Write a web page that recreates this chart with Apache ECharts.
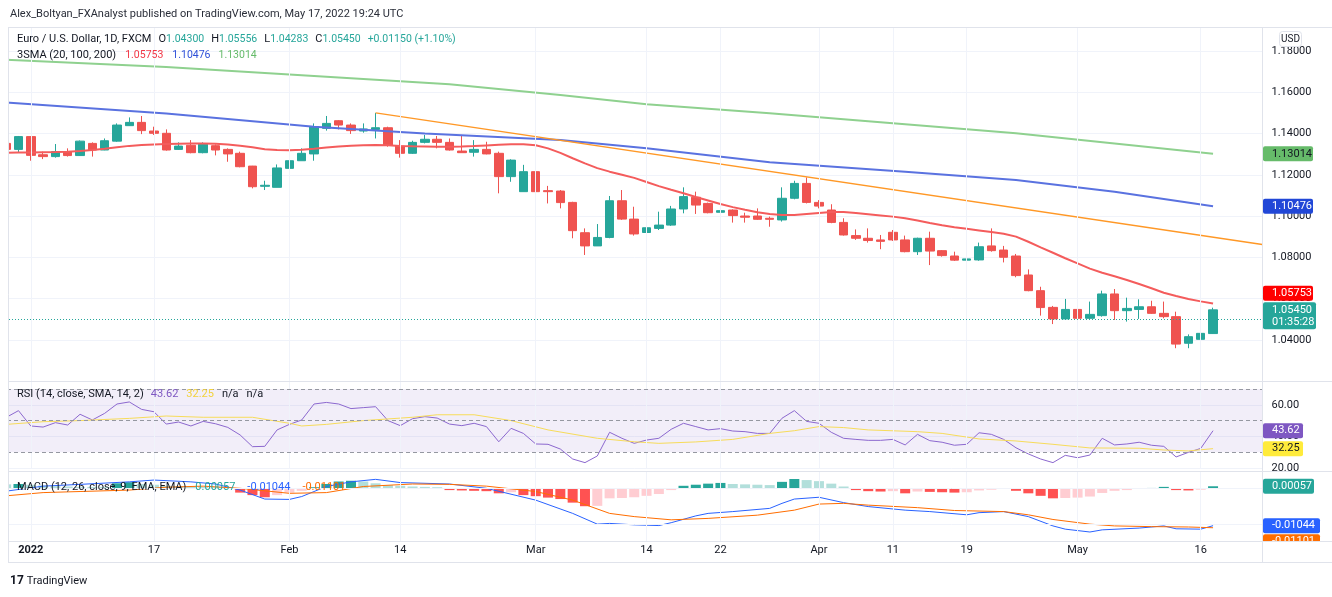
<!DOCTYPE html>
<html>
<head>
<meta charset="utf-8">
<title>EURUSD 1D</title>
<script src="https://cdn.jsdelivr.net/npm/echarts@6/dist/echarts.min.js"></script>
<style>
  html, body { margin: 0; padding: 0; background: #fff; }
  #chart { width: 1332px; height: 597px; }
</style>
</head>
<body>
<div id="chart"></div>
<script>
// trading days on the chart (Dec 30 2021 .. May 17 2022) + empty days to the right edge
const days = {
  '2021-12': [30, 31],
  '2022-01': [3, 4, 5, 6, 7, 10, 11, 12, 13, 14, 17, 18, 19, 20, 21, 24, 25, 26, 27, 28, 31],
  '2022-02': [1, 2, 3, 4, 7, 8, 9, 10, 11, 14, 15, 16, 17, 18, 21, 22, 23, 24, 25, 28],
  '2022-03': [1, 2, 3, 4, 7, 8, 9, 10, 11, 14, 15, 16, 17, 18, 21, 22, 23, 24, 25, 28, 29, 30, 31],
  '2022-04': [1, 4, 5, 6, 7, 8, 11, 12, 13, 14, 15, 18, 19, 20, 21, 22, 25, 26, 27, 28, 29],
  '2022-05': [2, 3, 4, 5, 6, 9, 10, 11, 12, 13, 16, 17, 18, 19, 20, 23]
};
const dates = Object.entries(days).flatMap(([m, ds]) => ds.map(d => m + '-' + String(d).padStart(2, '0')));

// time axis labels
const tickDates = ['2022-01-03', '2022-01-17', '2022-02-01', '2022-02-14', '2022-03-01', '2022-03-14',
  '2022-03-22', '2022-04-01', '2022-04-11', '2022-04-19', '2022-05-02', '2022-05-16'];
const tickLabels = ['2022', '17', 'Feb', '14', 'Mar', '14', '22', 'Apr', '11', '19', 'May', '16'];

// [open, close, low, high] from Dec 30
const candles = [
  [1.1352, 1.1323, 1.1318, 1.1362], [1.1323, 1.1385, 1.1307, 1.1388],
  [1.1385, 1.1294, 1.1268, 1.1386], [1.1297, 1.1288, 1.1276, 1.1312], [1.1288, 1.1312, 1.1283, 1.1349],
  [1.1312, 1.1293, 1.1288, 1.1328], [1.1293, 1.1363, 1.1292, 1.1366], [1.1352, 1.1320, 1.1288, 1.1357],
  [1.1320, 1.1365, 1.1319, 1.1376], [1.1363, 1.1441, 1.1360, 1.1449], [1.1438, 1.1454, 1.1437, 1.1478],
  [1.1454, 1.1414, 1.1397, 1.1485], [1.1412, 1.1401, 1.1393, 1.1433], [1.1401, 1.1320, 1.1317, 1.1420],
  [1.1323, 1.1339, 1.1320, 1.1357], [1.1343, 1.1307, 1.1304, 1.1368], [1.1307, 1.1348, 1.1304, 1.1357],
  [1.1341, 1.1320, 1.1294, 1.1347], [1.1323, 1.1301, 1.1263, 1.1328], [1.1304, 1.1239, 1.1236, 1.1312],
  [1.1242, 1.1142, 1.1134, 1.1243], [1.1144, 1.1149, 1.1126, 1.1171], [1.1139, 1.1233, 1.1139, 1.1250],
  [1.1231, 1.1268, 1.1223, 1.1280], [1.1268, 1.1304, 1.1268, 1.1328], [1.1301, 1.1433, 1.1268, 1.1449],
  [1.1425, 1.1449, 1.1414, 1.1485], [1.1462, 1.1441, 1.1420, 1.1465], [1.1441, 1.1414, 1.1398, 1.1449],
  [1.1412, 1.1422, 1.1404, 1.1449], [1.1420, 1.1428, 1.1376, 1.1500], [1.1428, 1.1344, 1.1336, 1.1433],
  [1.1339, 1.1304, 1.1283, 1.1368], [1.1304, 1.1357, 1.1301, 1.1365], [1.1357, 1.1372, 1.1352, 1.1393],
  [1.1372, 1.1357, 1.1328, 1.1388], [1.1357, 1.1320, 1.1317, 1.1376], [1.1315, 1.1307, 1.1307, 1.1393],
  [1.1309, 1.1323, 1.1288, 1.1368], [1.1323, 1.1301, 1.1299, 1.1360], [1.1304, 1.1191, 1.1110, 1.1312],
  [1.1191, 1.1271, 1.1166, 1.1275], [1.1118, 1.1215, 1.1118, 1.1248], [1.1215, 1.1118, 1.1094, 1.1236],
  [1.1123, 1.1118, 1.1061, 1.1146], [1.1121, 1.1065, 1.1037, 1.1126], [1.1066, 1.0929, 1.0892, 1.1069],
  [1.0919, 1.0855, 1.0811, 1.0940], [1.0855, 1.0896, 1.0855, 1.0961], [1.0896, 1.1074, 1.0892, 1.1097],
  [1.1074, 1.0985, 1.0981, 1.1126], [1.0985, 1.0913, 1.0905, 1.1045], [1.0920, 1.0943, 1.0908, 1.0999],
  [1.0940, 1.0956, 1.0932, 1.1021], [1.0956, 1.1034, 1.0952, 1.1049], [1.1034, 1.1094, 1.1013, 1.1139],
  [1.1091, 1.1053, 1.1010, 1.1118], [1.1061, 1.1016, 1.1013, 1.1065], [1.1018, 1.1026, 1.0965, 1.1042],
  [1.1029, 1.1002, 1.0968, 1.1032], [1.1000, 1.0994, 1.0968, 1.1016], [1.1000, 1.0984, 1.0981, 1.1037],
  [1.0989, 1.0984, 1.0948, 1.0997], [1.0981, 1.1086, 1.0973, 1.1139], [1.1086, 1.1158, 1.1081, 1.1171],
  [1.1158, 1.1066, 1.1061, 1.1187], [1.1066, 1.1048, 1.1037, 1.1077], [1.1029, 1.0969, 1.0965, 1.1057],
  [1.0969, 1.0908, 1.0905, 1.0989], [1.0905, 1.0892, 1.0884, 1.0935], [1.0892, 1.0881, 1.0871, 1.0940],
  [1.0884, 1.0877, 1.0839, 1.0908], [1.0921, 1.0884, 1.0879, 1.0932], [1.0884, 1.0827, 1.0824, 1.0905],
  [1.0827, 1.0892, 1.0811, 1.0895], [1.0892, 1.0830, 1.0762, 1.0924], [1.0832, 1.0808, 1.0803, 1.0835],
  [1.0806, 1.0786, 1.0782, 1.0827], [1.0786, 1.0792, 1.0770, 1.0818], [1.0787, 1.0851, 1.0783, 1.0871],
  [1.0855, 1.0832, 1.0827, 1.0940], [1.0835, 1.0800, 1.0775, 1.0855], [1.0806, 1.0711, 1.0703, 1.0816],
  [1.0714, 1.0638, 1.0635, 1.0741], [1.0638, 1.0556, 1.0517, 1.0657], [1.0557, 1.0501, 1.0476, 1.0564],
  [1.0501, 1.0547, 1.0496, 1.0598], [1.0547, 1.0504, 1.0491, 1.0557], [1.0504, 1.0523, 1.0499, 1.0585],
  [1.0517, 1.0622, 1.0512, 1.0638], [1.0622, 1.0541, 1.0496, 1.0646], [1.0541, 1.0552, 1.0488, 1.0604],
  [1.0547, 1.0560, 1.0501, 1.0596], [1.0560, 1.0528, 1.0525, 1.0589], [1.0528, 1.0512, 1.0504, 1.0585],
  [1.0512, 1.0379, 1.0359, 1.0536], [1.0383, 1.0415, 1.0359, 1.0426], [1.0402, 1.0431, 1.0402, 1.0451],
  [1.0430, 1.0545, 1.04283, 1.05556]
];

// SMA 20, one value per bar from Dec 30
const sma20 = [
  1.1307, 1.1308, 1.1308, 1.1309, 1.1310, 1.1312, 1.1315, 1.1320, 1.1326, 1.1333, 1.1340,
  1.1344, 1.1347, 1.1349, 1.1350, 1.1351, 1.1351, 1.1350, 1.1347, 1.1341, 1.1333, 1.1324,
  1.1320, 1.1319, 1.1321, 1.1326, 1.1332, 1.1337, 1.1341, 1.1343, 1.1344, 1.1343, 1.1340,
  1.1338, 1.1337, 1.1336, 1.1336, 1.1337, 1.1339, 1.1342, 1.1345, 1.1348, 1.1348, 1.1343,
  1.1328, 1.1306, 1.1280, 1.1255, 1.1232, 1.1215, 1.1200, 1.1185, 1.1165, 1.1145, 1.1127,
  1.1110, 1.1092, 1.1075, 1.1058, 1.1043, 1.1030, 1.1018, 1.1010, 1.1005, 1.1005, 1.1010,
  1.1015, 1.1020, 1.1019, 1.1015, 1.1009, 1.1003, 1.0997, 1.0989, 1.0978, 1.0966, 1.0955,
  1.0946, 1.0938, 1.0930, 1.0922, 1.0914, 1.0900, 1.0875, 1.0848, 1.0822, 1.0795, 1.0770,
  1.0745, 1.0725, 1.0708, 1.0690, 1.0670, 1.0650, 1.0628, 1.0612, 1.0598, 1.0586, 1.05753
];
// SMA 100 / 200, read at a number of days
const sma100 = [
  ['2021-12-30', 1.1550], ['2022-01-18', 1.1497], ['2022-02-03', 1.1433], ['2022-02-16', 1.1400],
  ['2022-03-03', 1.1368], ['2022-03-14', 1.1328], ['2022-03-28', 1.1261], ['2022-04-12', 1.1215],
  ['2022-04-25', 1.1175], ['2022-05-05', 1.1118], ['2022-05-17', 1.10476]
];
const sma200 = [
  ['2021-12-30', 1.1758], ['2022-01-18', 1.1722], ['2022-02-02', 1.1682], ['2022-02-18', 1.1639],
  ['2022-03-03', 1.1587], ['2022-03-14', 1.1542], ['2022-03-28', 1.1498], ['2022-04-08', 1.1454],
  ['2022-04-25', 1.1401], ['2022-05-05', 1.1352], ['2022-05-17', 1.13014]
];
const trendLine = [['2022-02-10', 1.1500], ['2022-05-23', 1.0862]];

// RSI 14, one value per bar from Dec 30
const rsi = [
  52.0, 56.3, 46.6, 45.9, 48.7, 47.2, 54.0, 50.4, 54.6, 60.5, 61.8, 57.1, 55.6, 47.8, 49.1,
  46.6, 49.5, 48.0, 45.7, 40.9, 33.5, 33.7, 44.1, 47.6, 50.4, 60.5, 61.5, 60.5, 57.6, 58.2,
  58.8, 50.0, 46.8, 51.2, 52.5, 51.6, 47.8, 46.8, 48.3, 46.2, 36.6, 45.1, 41.9, 35.2, 35.0,
  32.0, 25.7, 23.4, 27.6, 42.6, 38.8, 35.6, 37.7, 38.8, 44.5, 48.3, 46.2, 44.1, 44.9, 43.4,
  43.0, 41.9, 41.9, 51.5, 56.3, 49.5, 48.3, 42.6, 38.8, 38.1, 37.5, 37.5, 38.1, 34.6, 41.3,
  37.3, 36.3, 34.4, 35.0, 42.3, 41.3, 38.1, 32.8, 28.9, 25.7, 23.4, 28.0, 26.5, 28.2, 38.8,
  34.6, 35.2, 36.3, 34.4, 33.7, 27.0, 29.9, 32.4, 43.62
];
const rsiMa = [
  ['2021-12-30', 47.6], ['2022-01-04', 49.3], ['2022-01-07', 50.0], ['2022-01-13', 51.4],
  ['2022-01-18', 52.9], ['2022-01-21', 52.1], ['2022-01-27', 52.1], ['2022-02-01', 48.3],
  ['2022-02-02', 46.6], ['2022-02-04', 47.6], ['2022-02-09', 50.0], ['2022-02-15', 52.1],
  ['2022-02-17', 53.7], ['2022-02-22', 53.7], ['2022-02-25', 50.0], ['2022-03-02', 44.1],
  ['2022-03-08', 38.8], ['2022-03-11', 36.6], ['2022-03-15', 35.6], ['2022-03-18', 36.5],
  ['2022-03-23', 38.1], ['2022-03-28', 41.9], ['2022-03-30', 43.6], ['2022-04-01', 46.2],
  ['2022-04-05', 45.6], ['2022-04-07', 44.1], ['2022-04-13', 43.0], ['2022-04-15', 41.9],
  ['2022-04-20', 38.4], ['2022-04-25', 37.1], ['2022-04-28', 35.0], ['2022-05-03', 32.7],
  ['2022-05-09', 32.5], ['2022-05-11', 31.4], ['2022-05-13', 30.8], ['2022-05-17', 32.25]
];

// MACD (12, 26, 9)
const hist = [
  0.0011, 0.0012, 0.0010, 0.0008, 0.0006, 0.0005, 0.0004, 0.0004, 0.0004, 0.0014, 0.0017,
  0.0012, 0.0010, 0.0007, 0.0006, 0.0005, 0.0004, 0.0003, 0.0001, -0.0012, -0.0019, -0.0025,
  -0.0019, -0.0012, -0.0007, 0.0003, 0.0012, 0.0019, 0.0021, 0.0019, 0.0014, 0.0009, 0.0007,
  0.0005, 0.0004, 0.0003, -0.0005, -0.0006, -0.0007, -0.0008, -0.0014, -0.0011, -0.0019, -0.0022,
  -0.0026, -0.0030, -0.0040, -0.0050, -0.0049, -0.0028, -0.0027, -0.0025, -0.0021, -0.0016, -0.0005,
  0.0007, 0.0010, 0.0013, 0.0015, 0.0012, 0.0011, 0.0010, 0.0009, 0.0018, 0.0026, 0.0023,
  0.0020, 0.0013, 0.0005, -0.0005, -0.0008, -0.0009, -0.0008, -0.0014, -0.0009, -0.0010, -0.0011,
  -0.0012, -0.0011, -0.0006, -0.0004, -0.0002, -0.0007, -0.0014, -0.0021, -0.0028, -0.0027, -0.0026,
  -0.0023, -0.0013, -0.0007, -0.0005, -0.0002, 0.0001, 0.0004, -0.0005, -0.0006, -0.0004, 0.00057
];
const macd = [
  ['2021-12-30', -0.0008], ['2022-01-04', 0.0006], ['2022-01-07', 0.0011], ['2022-01-13', 0.0018],
  ['2022-01-17', 0.0023], ['2022-01-20', 0.0018], ['2022-01-24', 0.0012], ['2022-01-26', -0.0005],
  ['2022-01-28', -0.0030], ['2022-02-01', -0.0031], ['2022-02-02', -0.0023], ['2022-02-04', 0.0005],
  ['2022-02-08', 0.0018], ['2022-02-10', 0.0025], ['2022-02-14', 0.0016], ['2022-02-18', 0.0012],
  ['2022-02-23', 0.0000], ['2022-03-01', -0.0033], ['2022-03-04', -0.0070], ['2022-03-08', -0.0100],
  ['2022-03-09', -0.0098], ['2022-03-11', -0.0102], ['2022-03-15', -0.0104], ['2022-03-16', -0.0096],
  ['2022-03-18', -0.0077], ['2022-03-21', -0.0070], ['2022-03-23', -0.0065], ['2022-03-28', -0.0056],
  ['2022-03-29', -0.0042], ['2022-03-30', -0.0030], ['2022-04-01', -0.0025], ['2022-04-05', -0.0040],
  ['2022-04-07', -0.0051], ['2022-04-12', -0.0061], ['2022-04-14', -0.0065], ['2022-04-19', -0.0074],
  ['2022-04-20', -0.0068], ['2022-04-22', -0.0065], ['2022-04-26', -0.0079], ['2022-04-28', -0.0105],
  ['2022-04-29', -0.0114], ['2022-05-03', -0.0122], ['2022-05-04', -0.0116], ['2022-05-09', -0.0111],
  ['2022-05-11', -0.0105], ['2022-05-12', -0.0113], ['2022-05-16', -0.0114], ['2022-05-17', -0.01044]
];
const signal = [
  ['2021-12-30', -0.0021], ['2022-01-04', -0.0012], ['2022-01-07', -0.0009], ['2022-01-13', -0.0005],
  ['2022-01-18', 0.0003], ['2022-01-21', 0.0006], ['2022-01-26', 0.0000], ['2022-02-01', -0.0014],
  ['2022-02-04', -0.0012], ['2022-02-09', 0.0005], ['2022-02-15', 0.0012], ['2022-02-18', 0.0011],
  ['2022-02-23', 0.0006], ['2022-03-01', -0.0009], ['2022-03-04', -0.0033], ['2022-03-09', -0.0070],
  ['2022-03-11', -0.0079], ['2022-03-16', -0.0088], ['2022-03-21', -0.0084], ['2022-03-25', -0.0075],
  ['2022-03-30', -0.0061], ['2022-04-01', -0.0044], ['2022-04-05', -0.0042], ['2022-04-07', -0.0047],
  ['2022-04-13', -0.0054], ['2022-04-18', -0.0062], ['2022-04-22', -0.0065], ['2022-04-26', -0.0074],
  ['2022-04-28', -0.0087], ['2022-05-03', -0.0100], ['2022-05-05', -0.0105], ['2022-05-10', -0.0107],
  ['2022-05-13', -0.0108], ['2022-05-17', -0.01101]
];

const FONT = 'Roboto, "Noto Sans", sans-serif';
const TEXT = '#131722';
const UP = '#26a69a', DOWN = '#ef5350';
const GRID_LINE = '#f0f3fa', BORDER = '#e0e3eb';
const BAR = 12.333;                    // px per day
const gridLeft = 29 - 2.5 * BAR;       // Jan 3 sits at x = 29
const gridWidth = dates.length * BAR;

const chart = echarts.init(document.getElementById('chart'));

const tickMap = {};
tickDates.forEach((d, i) => { tickMap[d] = tickLabels[i]; });

const histData = hist.map((h, i) => {
  const prev = i > 0 ? hist[i - 1] : h;
  let color;
  if (h >= 0) color = h > prev ? '#26a69a' : '#b2dfdb';
  else color = h < prev ? '#ff5252' : '#ffcdd2';
  return { value: h, itemStyle: { color } };
});

const xAxisFor = (gridIndex, labels) => ({
  type: 'category', gridIndex, data: dates, boundaryGap: true,
  axisLine: { show: false }, axisTick: { show: false }, splitLine: { show: false },
  axisLabel: labels ? {
    interval: (i, v) => v in tickMap,
    formatter: v => v === '2022-01-03' ? '{y|' + tickMap[v] + '}' : tickMap[v],
    color: TEXT, fontSize: 11, fontFamily: FONT, margin: 4,
    rich: { y: { fontWeight: 'bold', fontSize: 11, fontFamily: FONT, color: TEXT } }
  } : { show: false }
});

// invisible series carrying grid lines
const gridHost = (i, lines) => ({
  type: 'line', xAxisIndex: i, yAxisIndex: i, data: dates.map(() => null), z: 0, silent: true,
  symbol: 'none',
  markLine: {
    silent: true, symbol: 'none', animation: false, label: { show: false },
    lineStyle: { color: GRID_LINE, width: 1, type: 'solid' },
    data: tickDates.map(d => ({ xAxis: d })).concat(lines)
  }
});

const lineSeries = (name, data, color, width, xi) => ({
  type: 'line', name, data, xAxisIndex: xi, yAxisIndex: xi, symbol: 'none', z: 3,
  lineStyle: { color, width }, silent: true
});

const base = { fontSize: 11, fontFamily: FONT, fontWeight: 'normal', lineHeight: 14 };
const rich = (extra) => Object.assign({ t: Object.assign({ color: TEXT }, base) }, extra);
const seg = (color, pad, size) => Object.assign({}, base, { color, padding: [0, 0, 0, pad], fontSize: size || 11 });

const option = {
  animation: false,
  backgroundColor: '#ffffff',
  textStyle: { fontFamily: FONT },
  title: [
    {
      text: 'Alex_Boltyan_FXAnalyst published on TradingView.com, May 17, 2022 19:24 UTC',
      left: 10, top: 7, padding: 0,
      textStyle: Object.assign({}, base, { color: '#2a2e39' })
    },
    {
      text: '{t|Euro / U.S. Dollar, 1D, FXCM}{k|O}{v|1.04300}{k|H}{v|1.05556}{k|L}{v|1.04283}{k|C}{v|1.05450}{c|+0.01150 (+1.10%)}',
      left: 17, top: 32, padding: 0,
      textStyle: Object.assign({}, base, {
        rich: rich({ k: seg(TEXT, 7), v: seg(UP, 0, 10.5), c: seg(UP, 7, 10.5) })
      })
    },
    {
      text: '{t|3SMA (20, 100, 200)}{r|1.05753}{b|1.10476}{g|1.13014}',
      left: 17, top: 48, padding: 0,
      textStyle: Object.assign({}, base, {
        rich: rich({ r: seg('#f23645', 9, 10.5), b: seg('#2e50d8', 9, 10.5), g: seg('#66bb6a', 8, 10.5) })
      })
    },
    {
      text: '{t|RSI (14, close, SMA, 14, 2)}{p|43.62}{y|32.25}{n|n/a}{n|n/a}',
      left: 17, top: 387, padding: 0,
      textStyle: Object.assign({}, base, { rich: rich({ p: seg('#7e57c2', 7), y: seg('#f2d23c', 8), n: seg(TEXT, 8) }) })
    },
    {
      text: '{t|MACD (12, 26, close, 9, EMA, EMA)}{h|0.00057}{m|-0.01044}{s|-0.01101}',
      left: 17, top: 480, padding: 0,
      textStyle: Object.assign({}, base, { rich: rich({ h: seg(UP, 9), m: seg('#2962ff', 12), s: seg('#ff6d00', 12) }) })
    },
    {
      text: '{l|17}{t|TradingView}',
      left: 10, top: 574, padding: 0,
      textStyle: Object.assign({}, base, { rich: rich({
        l: Object.assign({}, base, { color: TEXT, fontSize: 12, fontWeight: 'bold', padding: [0, 3, 0, 0] })
      }) })
    }
  ],
  grid: [
    { left: gridLeft, width: gridWidth, top: 27, height: 354 },
    { left: gridLeft, width: gridWidth, top: 381, height: 87 },
    { left: gridLeft, width: gridWidth, top: 471.5, height: 69.5 }
  ],
  xAxis: [xAxisFor(0, false), xAxisFor(1, false), xAxisFor(2, true)],
  yAxis: [
    {
      type: 'value', gridIndex: 0, position: 'right', min: 1.02, max: 1.19164, interval: 0.02,
      axisLine: { show: false }, axisTick: { show: false },
      axisLabel: { formatter: v => v.toFixed(5), color: TEXT, fontSize: 11, fontFamily: FONT, margin: 3,
        showMaxLabel: false, showMinLabel: false },
      splitLine: { lineStyle: { color: GRID_LINE } }
    },
    {
      type: 'value', gridIndex: 1, position: 'right', min: 20, max: 75.06, interval: 20,
      axisLine: { show: false }, axisTick: { show: false },
      axisLabel: { formatter: v => v.toFixed(2), color: TEXT, fontSize: 11, fontFamily: FONT, margin: 3,
        showMaxLabel: false },
      splitLine: { lineStyle: { color: GRID_LINE } }
    },
    {
      type: 'value', gridIndex: 2, position: 'right', min: -0.01471, max: 0.00469,
      axisLine: { show: false }, axisTick: { show: false }, axisLabel: { show: false },
      splitLine: { show: false }
    }
  ],
  series: [
    gridHost(0, []),
    gridHost(1, []),
    gridHost(2, [{ yAxis: 0 }, { yAxis: -0.01 }]),
    {
      type: 'candlestick', name: 'EURUSD', xAxisIndex: 0, yAxisIndex: 0, data: candles, barWidth: 9,
      itemStyle: { color: UP, color0: DOWN, borderColor: UP, borderColor0: DOWN, borderWidth: 1 },
      silent: true,
      markLine: {
        silent: true, symbol: 'none', animation: false, label: { show: false },
        data: [{ yAxis: candles[candles.length - 1][1],
          lineStyle: { color: '#26a69a', type: [1, 2], width: 1, opacity: 1 } }]
      }
    },
    lineSeries('SMA 200', sma200, '#8fd18f', 2, 0),
    lineSeries('SMA 100', sma100, '#5a72e0', 2, 0),
    lineSeries('SMA 20', sma20, '#f45c5c', 2, 0),
    lineSeries('Trend', trendLine, '#ff9826', 1.5, 0),
    Object.assign(lineSeries('RSI', rsi, '#8c68cf', 1, 1), {
      markArea: { silent: true, itemStyle: { color: 'rgba(126, 87, 194, 0.1)' },
        data: [[{ yAxis: 70 }, { yAxis: 30 }]] },
      markLine: { silent: true, symbol: 'none', animation: false, label: { show: false },
        lineStyle: { color: '#9598a1', type: [4, 3], width: 1 },
        data: [{ yAxis: 70 }, { yAxis: 50 }, { yAxis: 30 }] }
    }),
    lineSeries('RSI MA', rsiMa, '#f7dc5a', 1, 1),
    {
      type: 'bar', name: 'Histogram', xAxisIndex: 2, yAxisIndex: 2, data: histData, barWidth: 10, silent: true
    },
    lineSeries('MACD', macd, '#2962ff', 1, 2),
    lineSeries('Signal', signal, '#ff6d00', 1, 2)
  ]
};
chart.setOption(option);

// price tags on the scale, placed with the chart's own y scales
const py = (axis, v) => chart.convertToPixel({ yAxisIndex: axis }, v);
const TAG_X = 1263;
const tags = [];
function tag(y, lines, bg, fg, w, z) {
  const h = 15 + (lines.length - 1) * 12;
  tags.push({ type: 'rect', z: z || 60, shape: { x: TAG_X, y: y - 7.5, width: w, height: h, r: 2 }, style: { fill: bg } });
  lines.forEach((s, i) => tags.push({
    type: 'text', z: (z || 60) + 1,
    style: { x: 1272, y: y + i * 12, text: s, fill: fg, font: '11px ' + FONT, verticalAlign: 'middle' }
  }));
}
const yClose = py(0, candles[candles.length - 1][1]);
tag(py(0, sma200[sma200.length - 1][1]), ['1.13014'], '#66bb6a', TEXT, 50);
tag(py(0, sma100[sma100.length - 1][1]), ['1.10476'], '#2147d7', '#ffffff', 50);
tag(Math.min(py(0, sma20[sma20.length - 1]), yClose - 16.5), ['1.05753'], '#ff0000', '#ffffff', 50);
tag(yClose, ['1.05450', '01:35:28'], UP, '#ffffff', 53);
tag(py(1, rsi[rsi.length - 1]), ['43.62'], '#7e57c2', '#ffffff', 40);
tag(py(1, rsiMa[rsiMa.length - 1][1]), ['32.25'], '#ffeb3b', TEXT, 40);
tag(py(2, hist[hist.length - 1]), ['0.00057'], UP, '#ffffff', 51);
const yMacd = py(2, macd[macd.length - 1][1]);
tag(yMacd, ['-0.01044'], '#2962ff', '#ffffff', 57);
tag(Math.max(py(2, signal[signal.length - 1][1]), yMacd + 16), ['-0.01101'], '#ff6d00', '#ffffff', 57);

const hline = (y, x1, x2) => ({ type: 'line', z: 80, shape: { x1, y1: y, x2, y2: y }, style: { stroke: BORDER, lineWidth: 1 } });
const vline = (x, y1, y2) => ({ type: 'line', z: 80, shape: { x1: x, y1, x2: x, y2 }, style: { stroke: BORDER, lineWidth: 1 } });

chart.setOption({
  graphic: [
    // masks outside the panes
    { type: 'rect', z: 40, shape: { x: 0, y: 20, width: 8.5, height: 545 }, style: { fill: '#ffffff' } },
    { type: 'rect', z: 40, shape: { x: 1262.5, y: 27, width: 7.5, height: 515 }, style: { fill: '#ffffff' } },
    ...tags,
    { type: 'rect', z: 75, shape: { x: 1262.5, y: 541.5, width: 70, height: 21 }, style: { fill: '#ffffff' } },
    // pane frames
    hline(27.5, 8, 1332), hline(381.5, 8, 1332), hline(471.5, 8, 1332),
    hline(541.5, 8, 1332), hline(562.5, 8, 1332),
    vline(8.5, 27, 562.5), vline(1262.5, 27, 562.5),
    // currency box
    { type: 'rect', z: 70, shape: { x: 1279.5, y: 31.5, width: 22, height: 15, r: 3 },
      style: { fill: '#ffffff', stroke: BORDER, lineWidth: 1 } },
    { type: 'text', z: 71, style: { x: 1290.5, y: 39, text: 'USD', fill: TEXT, font: '10px ' + FONT,
      align: 'center', verticalAlign: 'middle' } }
  ]
});

window.addEventListener('resize', () => chart.resize());
</script>
</body>
</html>
